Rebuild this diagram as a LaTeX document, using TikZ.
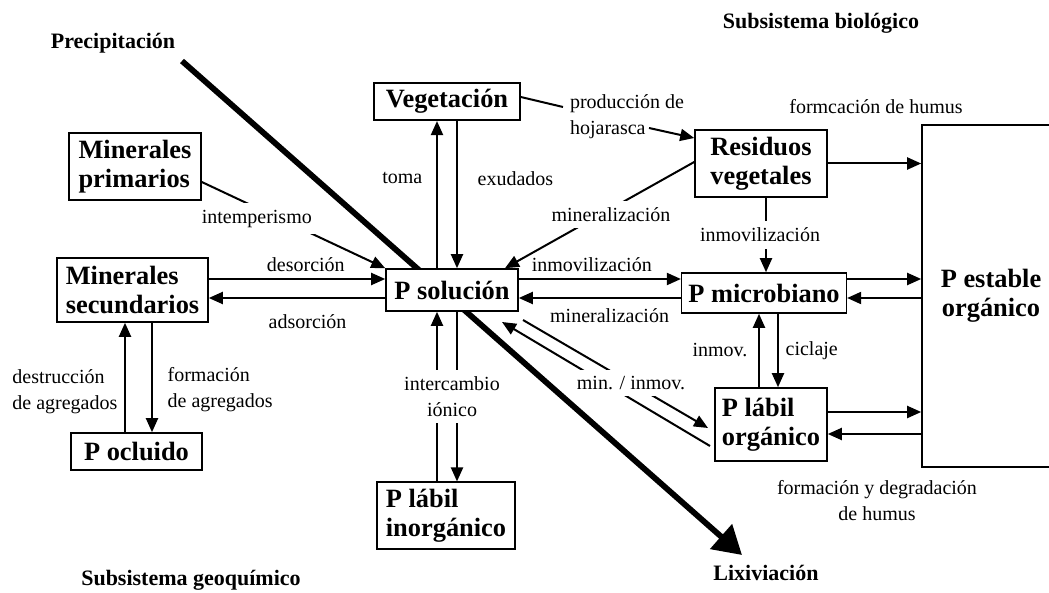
\documentclass[tikz,border=0pt]{standalone}
\usepackage{fontspec}
\setmainfont{Liberation Serif}
\usepackage{tikz}
\usetikzlibrary{arrows.meta}
\tikzstyle{caja} = [rectangle, draw=black, line width=0.8pt, fill=white, align=left, font=\fontsize{13.2}{14.5}\selectfont\bfseries]
\tikzstyle{arrow} = [line width=1pt, -{Triangle[length=7pt,width=6pt]}]
\tikzstyle{conn} = [line width=1pt]
\tikzstyle{txt} = [font=\fontsize{10}{13}\selectfont, align=center]
\tikzstyle{lbl} = [txt, fill=white]
\tikzstyle{titulo} = [font=\fontsize{11}{13}\selectfont\bfseries]
\tikzstyle{flujo} = [line width=2.9pt, -{Triangle[length=14pt,width=16pt]}]

\begin{document}
\begin{tikzpicture}[x=0.5pt, y=-0.5pt]
        \useasboundingbox (0,0) rectangle (1049,593);
        \clip (0,0) rectangle (1049,593);

        \coordinate (prec0) at (182,61);
        \coordinate (lix0) at (742,555);
        \draw [flujo] (prec0) -- (lix0);

        \node (prec) [titulo] at (113,43) {Precipitación};
        \node (lixiv) [titulo] at (766,573) {Lixiviación};
        \node (subbio) [titulo] at (821,23) {Subsistema biológico};
        \node (subgeo) [titulo] at (191,580) {Subsistema geoquímico};

        \node (veg) [caja, minimum width=73pt, minimum height=17.5pt] at (447,101.5) {Vegetación};
        \node (minprim) [caja, minimum width=66pt, minimum height=33.5pt] at (135,166.5) {Minerales\\primarios};
        \node (minsec) [caja, minimum width=75.5pt, minimum height=32pt] at (132.5,290) {Minerales\\secundarios};
        \node (pocl) [caja, minimum width=65.5pt, minimum height=18.5pt] at (136.5,451.5) {P ocluido};
        \node (psol) [caja, minimum width=66pt, minimum height=21pt] at (452,290) {P solución};
        \node (plabin) [caja, minimum width=69pt, minimum height=32.5pt] at (446,515.5) {P lábil\\inorgánico};
        \node (resid) [caja, minimum width=66pt, minimum height=33.5pt] at (761,163.5) {Residuos\\vegetales};
        \node (pmic) [caja, minimum width=81pt, minimum height=20pt] at (764,293) {P microbiano};
        \node (plabor) [caja, minimum width=56pt, minimum height=36.5pt] at (771,424.5) {P lábil\\orgánico};
        \node (pest) [caja, align=center, minimum width=69pt, minimum height=171pt] at (991,296) {P estable\\orgánico};

        \draw [arrow] (437,0 |- psol.north) -- node[txt, left, pos=0.61, xshift=-3.5pt] {toma} (437,0 |- veg.south);
        \draw [arrow] (457,0 |- veg.south) -- node[txt, right, pos=0.39, xshift=6.5pt] {exudados} (457,0 |- psol.north);

        \coordinate (hoj1) at (563,107);
        \coordinate (hoj2) at (649,128);
        \draw [conn] (veg.east |- 0,97) -- (hoj1);
        \draw [arrow] (hoj2) -- (resid.west |- 0,138);
        \node (hojar) [txt, align=left, anchor=west] at (563,117) {producción de\\hojarasca};

        \draw [arrow] (minprim.east |- 0,182) -- node[lbl, pos=0.3, yshift=-5.5pt] {intemperismo} (psol.north west);
        \draw [arrow] (minsec.east |- 0,279) -- node[txt, above, pos=0.55] {desorción} (psol.west |- 0,279);
        \draw [arrow] (psol.west |- 0,298) -- node[txt, below, pos=0.44, yshift=-4.5pt] {adsorción} (minsec.east |- 0,298);

        \draw [arrow] (psol.east |- 0,279) -- node[txt, above, pos=0.45] {inmovilización} (pmic.west |- 0,279);
        \draw [arrow] (pmic.west |- 0,298) -- node[txt, below, pos=0.44, yshift=-1.5pt] {mineralización} (psol.east |- 0,298);
        \draw [arrow] (resid.west |- 0,162) -- node[lbl, pos=0.44, yshift=-3pt] {mineralización} (505,0 |- psol.north);

        \draw [arrow] (resid.east) -- (resid.east -| pest.west);
        \node (fhumus) [txt] at (876,107) {formcación de humus};
        \draw [arrow] (766,0 |- resid.south) -- node[lbl, xshift=-3pt] {inmovilización} (766,0 |- pmic.north);
        \draw [arrow] (pmic.east |- 0,279) -- (pest.west |- 0,279);
        \draw [arrow] (pest.west |- 0,298) -- (pmic.east |- 0,298);

        \draw [arrow] (759,0 |- plabor.north) -- node[txt, left, xshift=-2pt] {inmov.} (759,0 |- pmic.south);
        \draw [arrow] (778,0 |- pmic.south) -- node[txt, right] {ciclaje} (778,0 |- plabor.north);
        \draw [arrow] (plabor.east |- 0,412) -- (pest.west |- 0,412);
        \draw [arrow] (pest.west |- 0,434) -- (plabor.east |- 0,434);
        \node (fdegrad) [txt] at (877,501) {formación y degradación\\de humus};

        \coordinate (minA) at (502,322);
        \coordinate (minB) at (523,320);
        \coordinate (minC) at (710,446);
        \coordinate (minD) at (708,428);
        \draw [arrow] (minC) -- (minA);
        \draw [arrow] (minB) -- (minD);
        \node (mininm) [lbl] at (631,383) {min. / inmov.};

        \draw [arrow] (437,0 |- plabin.north) -- (437,0 |- psol.south);
        \draw [arrow] (457,0 |- psol.south) -- node[lbl, xshift=-2.5pt] {intercambio\\iónico} (457,0 |- plabin.north);

        \draw [arrow] (125,0 |- pocl.north) -- node[txt, left, align=left, pos=0.37] {destrucción\\de agregados} (125,0 |- minsec.south);
        \draw [arrow] (152,0 |- minsec.south) -- node[txt, right, align=left, pos=0.61, xshift=4pt] {formación\\de agregados} (152,0 |- pocl.north);
    \end{tikzpicture}
\end{document}
